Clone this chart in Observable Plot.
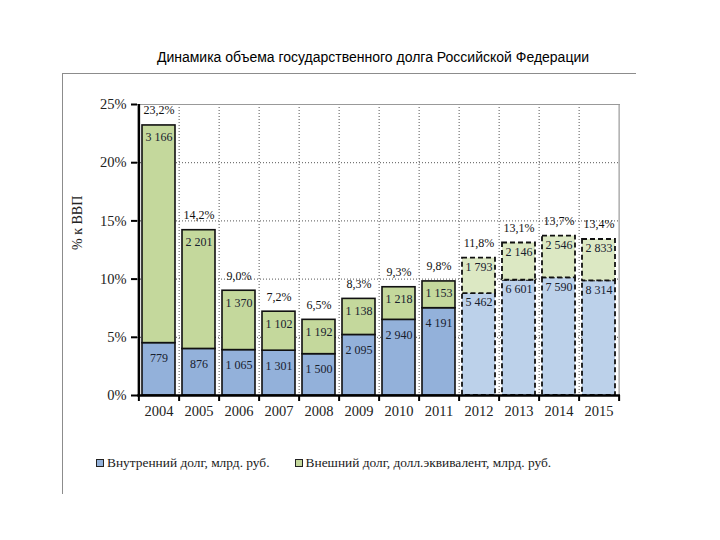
<!DOCTYPE html>
<html>
<head>
<meta charset="utf-8">
<script src="https://cdn.jsdelivr.net/npm/d3@7"></script>
<script src="https://cdn.jsdelivr.net/npm/@observablehq/plot@0.6"></script>
<style>
  body { margin: 0; background: #fff; }
  #wrap { position: relative; width: 720px; height: 540px; overflow: hidden; background: #fff; }
  #title { position: absolute; top: 49px; left: 0; width: 746px; text-align: center;
           font: 14px "Liberation Sans", Arial, sans-serif; color: #000; }
  #frame { position: absolute; left: 62px; top: 73px; width: 574px; height: 421px;
           border-top: 1.5px solid #8c8c8c; border-left: 1.5px solid #8c8c8c; box-sizing: border-box; }
  #chart { position: absolute; left: 0; top: 0; }
  #chart svg, #chart svg text { font-family: "Liberation Serif", "Times New Roman", serif !important; }
  #legend { position: absolute; top: 455px; left: 96px; display: flex; gap: 25px;
            font: 13.4px "Liberation Serif", "Times New Roman", serif; color: #1a1a1a; }
  .item { display: flex; align-items: center; }
  .sw { width: 6px; height: 6px; border: 1px solid #222; margin-right: 3px; }
</style>
</head>
<body>
<div id="wrap">
  <div id="frame"></div>
  <div id="title">Динамика объема государственного долга Российской Федерации</div>
  <div id="chart"></div>
  <div id="legend"></div>
</div>
<script>
// ---- data ----
const years = ["2004","2005","2006","2007","2008","2009","2010","2011","2012","2013","2014","2015"];
const internalShare = [4.5, 4.0, 3.9, 3.85, 3.55, 5.2, 6.5, 7.5, 8.75, 9.9, 10.1, 9.85]; // % of GDP
const totalShare = [23.2, 14.2, 9.0, 7.2, 6.5, 8.3, 9.3, 9.8, 11.8, 13.1, 13.7, 13.4];   // % of GDP
const internalBn = [779, 876, 1065, 1301, 1500, 2095, 2940, 4191, 5462, 6601, 7590, 8314];
const externalBn = [3166, 2201, 1370, 1102, 1192, 1138, 1218, 1153, 1793, 2146, 2546, 2833];
const forecastYears = ["2012","2013","2014","2015"];
const yTicks = [0, 5, 10, 15, 20, 25];
const seriesNames = ["Внутренний долг, млрд. руб.", "Внешний долг, долл.эквивалент, млрд. руб."];
const yLabel = "% к ВВП";

// ---- derived table ----
const rows = years.flatMap((year, i) => [
  {year, part: "internal", y1: 0, y2: internalShare[i], value: internalBn[i], forecast: forecastYears.includes(year)},
  {year, part: "external", y1: internalShare[i], y2: totalShare[i], value: externalBn[i], forecast: forecastYears.includes(year)}
]);
const totals = years.map((year, i) => ({year, total: totalShare[i]}));

const colors = {
  internal: "#93b1da", internalF: "#bcd1ea",
  external: "#c4d89c", externalF: "#dce8c3"
};
const fillOf = d => d.part === "internal"
  ? (d.forecast ? colors.internalF : colors.internal)
  : (d.forecast ? colors.externalF : colors.external);
const fmtBn = v => d3.format(",")(v).replace(/,/g, " ");
const fmtPct = v => v.toFixed(1).replace(".", ",") + "%";

const W = 720, H = 540, mL = 137, mR = 100, mT = 104, mB = 145;
const step = (W - mL - mR) / years.length;
const serif = "Liberation Serif, Times New Roman, serif";
const txt = "#17202e";

const chart = Plot.plot({
  width: W, height: H,
  marginLeft: mL, marginRight: mR, marginTop: mT, marginBottom: mB,
  x: {type: "band", domain: years, paddingInner: 0.17, paddingOuter: 0.085},
  y: {domain: [0, 25]},
  style: {background: "transparent", color: "#111"},
  marks: [
    // grid
    Plot.ruleY([5, 10, 15, 20], {stroke: "#555", strokeDasharray: "1,2", strokeWidth: 1}),
    Plot.ruleX(years.slice(0, -1), {x: d => d, dx: step / 2, stroke: "#555", strokeDasharray: "1,2", strokeWidth: 1}),
    Plot.ruleY([25], {stroke: "#999", strokeWidth: 1.2}),
    Plot.ruleX([years[years.length - 1]], {x: d => d, dx: step / 2, stroke: "#999", strokeWidth: 1.2}),
    // bars
    Plot.barY(rows.filter(d => !d.forecast), {x: "year", y1: "y1", y2: "y2", fill: fillOf, stroke: "#111", strokeWidth: 1.6}),
    Plot.barY(rows.filter(d => d.forecast), {x: "year", y1: "y1", y2: "y2", fill: fillOf, stroke: "#111", strokeWidth: 1.8, strokeDasharray: "5,3"}),
    // value labels
    Plot.text(rows.filter(d => !d.forecast && d.part === "internal"), {x: "year", y: "y2", text: d => fmtBn(d.value), dy: 15, fontSize: 12, fontFamily: serif, fill: txt}),
    Plot.text(rows.filter(d => d.forecast && d.part === "internal"), {x: "year", y: "y2", text: d => fmtBn(d.value), dy: 9, fontSize: 12, fontFamily: serif, fill: txt}),
    Plot.text(rows.filter(d => !d.forecast && d.part === "external"), {x: "year", y: "y2", text: d => fmtBn(d.value), dy: 12, fontSize: 12, fontFamily: serif, fill: txt}),
    Plot.text(rows.filter(d => d.forecast && d.part === "external"), {x: "year", y: "y2", text: d => fmtBn(d.value), dy: 9, fontSize: 12, fontFamily: serif, fill: txt}),
    Plot.text(totals, {x: "year", y: "total", text: d => fmtPct(d.total), dy: -15, fontSize: 12, fontFamily: serif, fill: "#111"}),
    // axes
    Plot.ruleY([0], {stroke: "#000", strokeWidth: 2.5}),
    Plot.ruleX([years[0]], {x: d => d, dx: -step / 2, stroke: "#000", strokeWidth: 2.5}),
    Plot.ruleX(years, {x: d => d, dx: step / 2, y1: 0, y2: 0, insetBottom: -6, stroke: "#000", strokeWidth: 2}),
    Plot.ruleX([years[0]], {x: d => d, dx: -step / 2, y1: 0, y2: 0, insetBottom: -6, stroke: "#000", strokeWidth: 2}),
    Plot.axisY({ticks: yTicks, tickFormat: d => d + "%", tickSize: 6, tickPadding: 5, fontSize: 14.5, fontFamily: serif, stroke: "#000", strokeWidth: 2, label: null, fill: "#222"}),
    Plot.axisX({tickSize: 0, tickPadding: 10, fontSize: 14.5, fontFamily: serif, label: null, fill: "#222"}),
    Plot.text([yLabel], {frameAnchor: "left", rotate: -90, dx: -60, fontSize: 14, fontFamily: serif, fill: "#222"})
  ]
});
document.getElementById("chart").appendChild(chart);

// legend
const legend = document.getElementById("legend");
[[seriesNames[0], colors.internal], [seriesNames[1], colors.external]].forEach(([name, c]) => {
  const item = document.createElement("div");
  item.className = "item";
  const sw = document.createElement("span");
  sw.className = "sw";
  sw.style.background = c;
  item.appendChild(sw);
  item.appendChild(document.createTextNode(name));
  legend.appendChild(item);
});
</script>
</body>
</html>
